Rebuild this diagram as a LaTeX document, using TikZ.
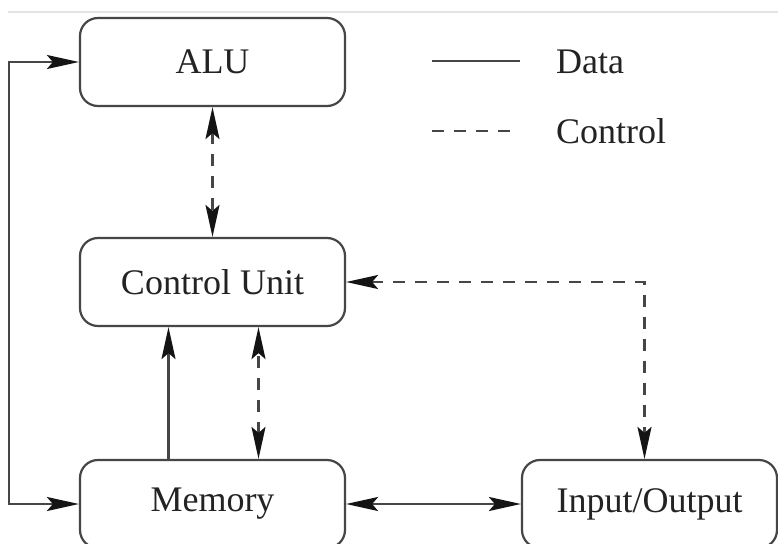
\documentclass[tikz,border=0pt]{standalone}
\usepackage{fontspec}
\setmainfont{Liberation Serif}
\usetikzlibrary{arrows.meta}
\definecolor{linegray}{RGB}{70,70,70}
\definecolor{tipblack}{RGB}{20,20,20}
\definecolor{textblack}{RGB}{35,35,35}
\definecolor{rulegray}{RGB}{228,228,228}
\begin{document}
\begin{tikzpicture}[x=1pt,y=-1pt,
  ln/.style={line width=2.2pt, draw=linegray},
  ctrl/.style={ln, dash pattern=on 12pt off 10pt},
  arrowtip/.tip={Stealth[length=32pt,width=14pt,inset=6pt,color=tipblack]},
  tips/.style={arrowtip-arrowtip},
  tipend/.style={-arrowtip},
  box/.style={ln, rounded corners=18pt, minimum height=88pt, inner sep=0pt,
    text=textblack, font=\fontsize{36}{40}\selectfont},
  lbl/.style={anchor=base west, inner sep=0pt, text=textblack,
    font=\fontsize{36}{40}\selectfont}
]
\useasboundingbox (0,0) rectangle (778,543);
\clip (0,0) rectangle (778,543);
\fill[white] (0,0) rectangle (778,543);

% thin rule across the top
\coordinate (ra) at (8,12);
\coordinate (rb) at (778,12);
\draw[line width=2pt, rulegray] (ra) -- (rb);

% blocks
\node[box, minimum width=265pt] (alu) at (212.5,62) {ALU};
\node[box, minimum width=265pt] (cu)  at (212.5,282) {Control Unit};
\node[box, minimum width=265pt] (mem) at (212.5,504) {Memory};
\node[box, minimum width=255pt] (io)  at (649.5,504) {Input/Output};

% legend
\coordinate (da) at (432,61);
\coordinate (db) at (520,61);
\draw[ln] (da) -- (db);
\node[lbl] (dl) at (556,73) {Data};
\coordinate (ca) at (432,131);
\coordinate (cb) at (520,131);
\draw[ctrl] (ca) -- (cb);
\node[lbl] (cl) at (556,143) {Control};

% data paths
\draw[ln, tips] (mem.west) -- ++(-70,0) |- (alu.west);
\draw[ln, tipend] ([xshift=-44pt]mem.north) -- ([xshift=-44pt]cu.south);
\draw[ln, tips] (mem.east) -- (io.west);

% control paths
\draw[ctrl, tips] (alu.south) -- (cu.north);
\draw[ctrl, tips] ([xshift=46pt]mem.north) -- ([xshift=46pt]cu.south);
\draw[ctrl, tips] (cu.east) -| ([xshift=-5pt]io.north);
\end{tikzpicture}
\end{document}
